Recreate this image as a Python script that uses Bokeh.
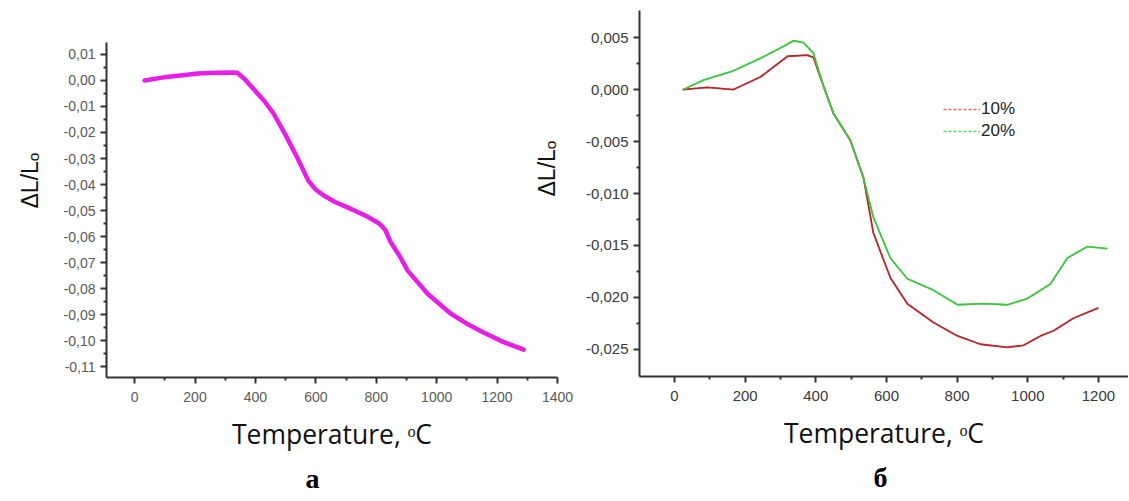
from bokeh.plotting import figure
from bokeh.models import Range1d, FixedTicker, Title, Legend, LegendItem
from bokeh.layouts import row
from bokeh.embed import file_html
from bokeh.resources import INLINE

# ---- data: panel a ----
a_temp = [33, 96, 160, 208, 270, 320, 340, 365, 407, 430, 460, 500, 540, 575, 600, 626, 665, 705, 765, 810, 830, 847, 880, 904, 970, 1046, 1100, 1155, 1220, 1288]
a_dl = [0.0000, 0.0012, 0.0020, 0.0027, 0.0030, 0.0031, 0.0030, 0.0005, -0.0050, -0.0080, -0.0127, -0.0210, -0.0300, -0.0385, -0.0420, -0.0442, -0.0468, -0.0488, -0.0520, -0.0550, -0.0575, -0.0620, -0.0680, -0.0731, -0.0820, -0.0896, -0.0935, -0.0969, -0.1005, -0.1035]

# ---- data: panel b ----
b10_temp = [23, 93, 167, 243, 320, 376, 393, 420, 450, 498, 535, 563, 611, 659, 733, 801, 866, 942, 988, 1036, 1073, 1129, 1200]
b10_dl = [0.0000, 0.0002, 0.0000, 0.0012, 0.0032, 0.0033, 0.0031, 0.0005, -0.0023, -0.0049, -0.0085, -0.0138, -0.0181, -0.0206, -0.0224, -0.0237, -0.0245, -0.0248, -0.0246, -0.0237, -0.0232, -0.0220, -0.0210]
b20_temp = [25, 82, 167, 243, 300, 337, 365, 393, 420, 450, 498, 535, 563, 611, 659, 733, 801, 875, 942, 999, 1064, 1112, 1169, 1225]
b20_dl = [0.0000, 0.0009, 0.0018, 0.0030, 0.0040, 0.0047, 0.0045, 0.0035, 0.0005, -0.0023, -0.0049, -0.0085, -0.0123, -0.0162, -0.0182, -0.0193, -0.0207, -0.0206, -0.0207, -0.0201, -0.0187, -0.0162, -0.0151, -0.0153]
b_series = ["10%", "20%"]

# ---- ticks ----
a_xticks = [0, 200, 400, 600, 800, 1000, 1200, 1400]
a_xlabels = ["0", "200", "400", "600", "800", "1000", "1200", "1400"]
a_yticks = [0.01, 0.0, -0.01, -0.02, -0.03, -0.04, -0.05, -0.06, -0.07, -0.08, -0.09, -0.10, -0.11]
a_ylabels = ["0,01", "0,00", "-0,01", "-0,02", "-0,03", "-0,04", "-0,05", "-0,06", "-0,07", "-0,08", "-0,09", "-0,10", "-0,11"]
b_xticks = [0, 200, 400, 600, 800, 1000, 1200]
b_xlabels = ["0", "200", "400", "600", "800", "1000", "1200"]
b_yticks = [0.005, 0.0, -0.005, -0.010, -0.015, -0.020, -0.025]
b_ylabels = ["0,005", "0,000", "-0,005", "-0,010", "-0,015", "-0,020", "-0,025"]

AXC = "#333333"
YLABEL = "ΔL/Lₒ"


def style(p, xt, xl, yt, yl, xminor, yminor, tl_color, tl_size):
    p.xaxis.ticker = FixedTicker(ticks=xt, minor_ticks=xminor)
    p.yaxis.ticker = FixedTicker(ticks=yt, minor_ticks=yminor)
    p.xaxis.major_label_overrides = {t: l for t, l in zip(xt, xl)}
    p.yaxis.major_label_overrides = {t: l for t, l in zip(yt, yl)}
    for ax in (p.xaxis[0], p.yaxis[0]):
        ax.axis_line_color = AXC
        ax.axis_line_width = 2
        ax.major_tick_line_color = AXC
        ax.major_tick_line_width = 2
        ax.minor_tick_line_color = AXC
        ax.minor_tick_line_width = 2
        ax.major_tick_in = 0
        ax.major_tick_out = 6
        ax.minor_tick_in = 0
        ax.minor_tick_out = 3
        ax.major_label_text_font = "Liberation Sans"
        ax.major_label_text_font_size = tl_size
        ax.major_label_text_color = tl_color
    p.xaxis.major_label_standoff = 8
    p.yaxis.major_label_standoff = 5
    p.xaxis.axis_label = "Temperature, ᵒC"
    p.xaxis.axis_label_text_font = "Open Sans"
    p.xaxis.axis_label_text_font_style = "normal"
    p.xaxis.axis_label_text_font_size = "26.5px"
    p.xaxis.axis_label_text_color = "#111111"
    p.xaxis.axis_label_standoff = 11
    p.xgrid.visible = False
    p.ygrid.visible = False
    p.outline_line_color = None
    p.border_fill_alpha = 0
    p.background_fill_alpha = 0


def ytitle(offset, standoff):
    return Title(text=YLABEL, align="right", vertical_align="top", offset=offset,
                 standoff=standoff, text_font="Liberation Sans", text_font_size="23px",
                 text_font_style="normal", text_color="#111111")


def caption(text, offset):
    return Title(text=text, align="left", vertical_align="bottom", offset=offset,
                 standoff=12, text_font="Liberation Serif", text_font_size="28px",
                 text_font_style="bold", text_color="#000000")


H = 501
W_A = 576
B_LEFT = 128
OVERLAP = 65
W_B = 617

pa = figure(width=W_A, height=H, output_backend="svg", toolbar_location=None,
            x_range=Range1d(-93, 1400), y_range=Range1d(-0.1142, 0.0146),
            min_border_left=106, min_border_right=19, min_border_top=42, min_border_bottom=124,
            frame_align=False)
style(pa, a_xticks, a_xlabels, a_yticks, a_ylabels,
      [100, 300, 500, 700, 900, 1100, 1300],
      [0.005, -0.005, -0.015, -0.025, -0.035, -0.045, -0.055, -0.065, -0.075, -0.085, -0.095, -0.105],
      "#5a5a5a", "14px")
pa.line(a_temp, a_dl, line_color="#e81ee8", line_width=4.5, line_cap="round", line_join="round")
pa.add_layout(ytitle(110, 32), "left")
pa.add_layout(caption("а", 199), "below")

pb = figure(width=W_B, height=H, output_backend="svg", toolbar_location=None,
            x_range=Range1d(-99, 1285), y_range=Range1d(-0.0276, 0.0076),
            min_border_left=B_LEFT, min_border_right=0, min_border_top=10, min_border_bottom=125,
            frame_align=False, margin=(0, 0, 0, -OVERLAP))
style(pb, b_xticks, b_xlabels, b_yticks, b_ylabels,
      [100, 300, 500, 700, 900, 1100],
      [0.0025, -0.0025, -0.0075, -0.0125, -0.0175, -0.0225],
      "#3a3a3a", "15px")

# dashed copies (legend samples), drawn beneath the solid curves
leg10 = pb.line(b10_temp, b10_dl, line_color="#e06a6a", line_width=1.3, line_dash="3 2")
leg20 = pb.line(b20_temp, b20_dl, line_color="#5cd45c", line_width=1.3, line_dash="3 2")
pb.line(b10_temp, b10_dl, line_color="#b8282c", line_width=1.8)
pb.line(b20_temp, b20_dl, line_color="#3cc83c", line_width=1.8)

legend = Legend(items=[LegendItem(label=b_series[0], renderers=[leg10]),
                       LegendItem(label=b_series[1], renderers=[leg20])],
                location=(304, 235), orientation="vertical",
                glyph_width=37, glyph_height=20, label_height=20, label_standoff=1,
                padding=0, margin=0, spacing=2,
                border_line_alpha=0, background_fill_alpha=0,
                label_text_font="Liberation Sans", label_text_font_size="17px",
                label_text_color="#222222")
pb.add_layout(legend)
pb.add_layout(ytitle(130, 42), "left")
pb.add_layout(caption("б", 234), "below")

layout = row(pa, pb)
open("out.html", "w").write(file_html(layout, INLINE))
